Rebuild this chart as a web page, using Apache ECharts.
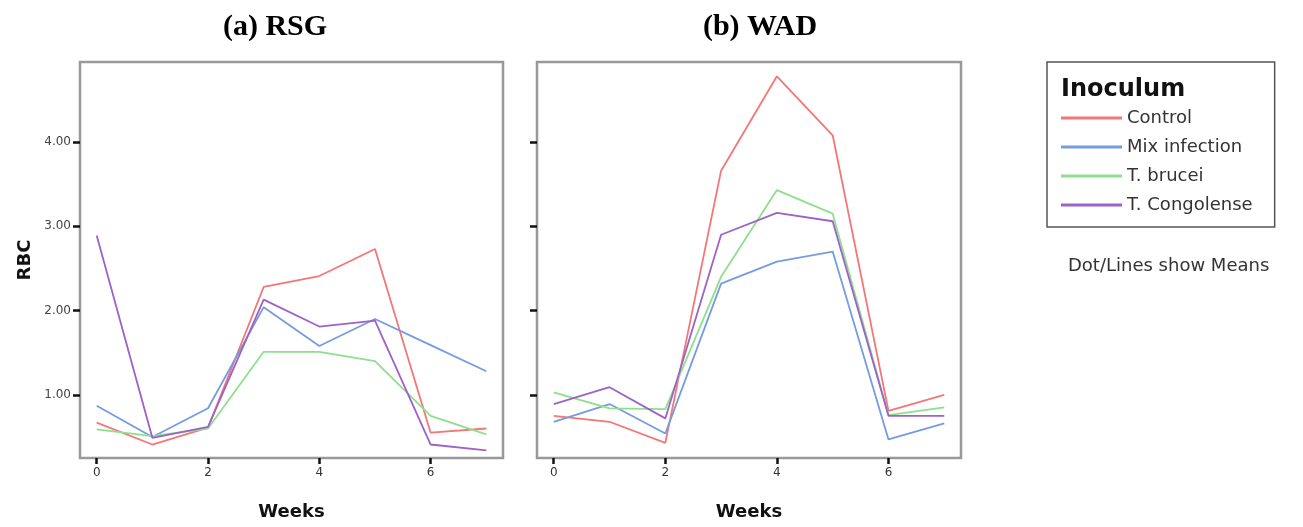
<!DOCTYPE html>
<html>
<head>
<meta charset="utf-8">
<script src="https://cdn.jsdelivr.net/npm/echarts@6/dist/echarts.min.js"></script>
<style>
  html, body { margin: 0; padding: 0; background: #fff; }
  #chart { width: 1303px; height: 527px; }
</style>
</head>
<body>
<div id="chart"></div>
<script>
const weeks = [0, 1, 2, 3, 4, 5, 6, 7];
const weekTicks = [0, 2, 4, 6];
const rbcTicks = [1, 2, 3, 4];
const groups = ["Control", "Mix infection", "T. brucei", "T. Congolense"];
const colors = ["#f47676", "#769be0", "#8edf8e", "#9c62c8"];

// (a) RSG
const rsgControl = [0.67, 0.41, 0.61, 2.28, 2.41, 2.73, 0.55, 0.60];
const rsgMix = [0.87, 0.50, 0.84, 2.04, 1.58, 1.90, 1.59, 1.28];
const rsgBrucei = [0.59, 0.51, 0.60, 1.51, 1.51, 1.40, 0.75, 0.53];
const rsgCongo = [2.89, 0.49, 0.62, 2.13, 1.81, 1.88, 0.41, 0.34];

// (b) WAD
const wadControl = [0.75, 0.68, 0.43, 3.66, 4.78, 4.08, 0.81, 1.00];
const wadMix = [0.68, 0.89, 0.54, 2.32, 2.58, 2.70, 0.47, 0.66];
const wadBrucei = [1.03, 0.84, 0.83, 2.40, 3.43, 3.15, 0.76, 0.85];
const wadCongo = [0.89, 1.09, 0.72, 2.90, 3.16, 3.06, 0.75, 0.75];

const panels = [
    [rsgControl, rsgMix, rsgBrucei, rsgCongo],
    [wadControl, wadMix, wadBrucei, wadCongo]
];

const chart = echarts.init(document.getElementById("chart"));

const xAxisFor = (gridIndex) => ({
    type: "value",
    gridIndex,
    min: -0.3,
    max: 7.3,
    name: "Weeks",
    nameLocation: "middle",
    nameGap: 45,
    nameTextStyle: { fontFamily: "DejaVu Sans", fontWeight: "bold", fontSize: 18, color: "#111" },
    axisLine: { show: false, onZero: false },
    splitLine: { show: false },
    axisTick: { customValues: weekTicks, length: 6, lineStyle: { color: "#111", width: 2.5 } },
    axisLabel: { customValues: weekTicks, fontFamily: "DejaVu Sans", fontSize: 12, color: "#333", margin: 9 }
});

const yAxisFor = (gridIndex, showLabels) => ({
    type: "value",
    gridIndex,
    min: 0.25,
    max: 4.95,
    name: showLabels ? "RBC" : "",
    nameLocation: "middle",
    nameGap: 46,
    nameRotate: 90,
    nameTextStyle: { fontFamily: "DejaVu Sans", fontWeight: "bold", fontSize: 18, color: "#111" },
    axisLine: { show: false, onZero: false },
    splitLine: { show: false },
    axisTick: { customValues: rbcTicks, length: 7, lineStyle: { color: "#111", width: 2.5 } },
    axisLabel: {
        show: showLabels,
        customValues: rbcTicks,
        fontFamily: "DejaVu Sans",
        fontSize: 12,
        color: "#444",
        margin: 9,
        formatter: (v) => v.toFixed(2)
    }
});

const series = [];
panels.forEach((panel, p) => {
    panel.forEach((values, i) => {
        series.push({
            name: groups[i],
            type: "line",
            xAxisIndex: p,
            yAxisIndex: p,
            symbol: "none",
            lineStyle: { color: colors[i], width: 1.8 },
            itemStyle: { color: colors[i] },
            data: weeks.map((w, k) => [w, values[k]]),
            z: i === 3 ? 3 : 2
        });
    });
});

const option = {
    animation: false,
    grid: [
        { left: 80, top: 62, width: 423, height: 396, show: true, borderColor: "#999", borderWidth: 2.5 },
        { left: 537, top: 62, width: 424, height: 396, show: true, borderColor: "#999", borderWidth: 2.5 }
    ],
    xAxis: [xAxisFor(0), xAxisFor(1)],
    yAxis: [yAxisFor(0, true), yAxisFor(1, false)],
    legend: {
        data: groups,
        orient: "vertical",
        left: 1047,
        top: 62,
        padding: [46, 22, 12, 14],
        borderColor: "#555",
        borderWidth: 1.5,
        itemWidth: 61,
        itemHeight: 3,
        itemGap: 9,
        icon: "rect",
        selectedMode: false,
        textStyle: { fontFamily: "DejaVu Sans", fontSize: 18, color: "#333", lineHeight: 20, padding: [0, 0, 0, 0] }
    },
    graphic: [
        {
            type: "text", x: 275, y: 27,
            style: { text: "(a) RSG", fontFamily: "Liberation Serif", fontWeight: "bold", fontSize: 30, fill: "#000", align: "center", verticalAlign: "middle" }
        },
        {
            type: "text", x: 760, y: 27,
            style: { text: "(b) WAD", fontFamily: "Liberation Serif", fontWeight: "bold", fontSize: 30, fill: "#000", align: "center", verticalAlign: "middle" }
        },
        {
            type: "text", x: 1061, y: 90,
            style: { text: "Inoculum", fontFamily: "DejaVu Sans", fontWeight: "bold", fontSize: 24, fill: "#111", align: "left", verticalAlign: "middle" }
        },
        {
            type: "text", x: 1068, y: 266,
            style: { text: "Dot/Lines show Means", fontFamily: "DejaVu Sans", fontSize: 18, fill: "#333", align: "left", verticalAlign: "middle" }
        }
    ],
    series
};

chart.setOption(option);
window.addEventListener("resize", chart.resize);
</script>
</body>
</html>
